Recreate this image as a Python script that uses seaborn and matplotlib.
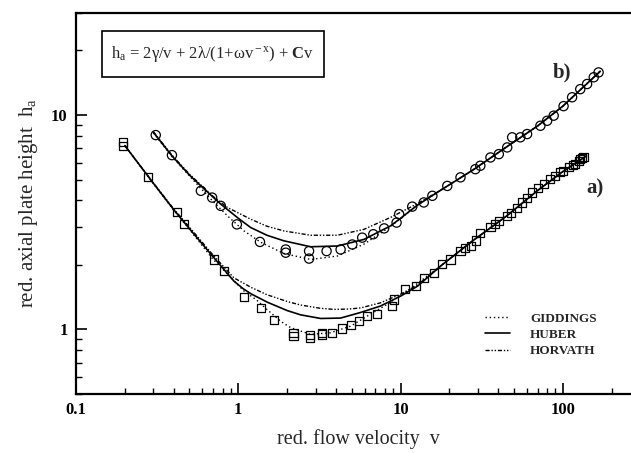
import matplotlib
matplotlib.use("Agg")
import matplotlib.pyplot as plt
import seaborn as sns
import pandas as pd
from matplotlib.patches import Rectangle
from matplotlib.ticker import LogLocator, NullFormatter

# ---------------- data ----------------
# measured points, series a) (squares)
a_v = [0.194, 0.194, 0.276, 0.418, 0.464, 0.71, 0.818, 1.085, 1.375, 1.66, 2.19, 2.19,
       2.75, 2.75, 3.3, 3.3, 3.8, 4.38, 4.92, 5.54, 6.24, 7.2, 8.9, 9.1, 10.7, 12.4, 13.9,
       16.0, 18.1, 20.3, 23.4, 25.0, 27.0, 29.0, 31.0, 35.8, 38.0, 40.3, 45.4, 48.0, 52.3,
       56.1, 60.0, 64.6, 70.0, 76.2, 83.8, 90.0, 96.5, 100.0, 108.6, 115.0, 119.4, 125.0,
       128.0, 131.0, 134.0]
a_h = [7.19, 7.45, 5.15, 3.53, 3.09, 2.12, 1.87, 1.41, 1.26, 1.11, 0.958, 0.93,
       0.94, 0.915, 0.947, 0.965, 0.958, 1.01, 1.05, 1.09, 1.155, 1.175, 1.285, 1.38, 1.55,
       1.59, 1.74, 1.84, 2.01, 2.12, 2.32, 2.4, 2.45, 2.6, 2.83, 2.99, 3.1, 3.21, 3.38, 3.5,
       3.70, 3.91, 4.1, 4.35, 4.55, 4.76, 5.02, 5.2, 5.4, 5.5, 5.7, 5.85, 5.9, 6.1,
       6.23, 6.3, 6.35]

# measured points, series b) (circles)
b_v = [0.31, 0.39, 0.588, 0.69, 0.78, 0.98, 1.36, 1.96, 1.96, 2.73, 2.73, 3.5, 4.27,
       5.04, 5.8, 6.79, 7.92, 9.45, 9.8, 11.8, 13.9, 15.7, 19.4, 23.4, 28.9, 31.0, 35.8,
       40.3, 45.4, 48.7, 54.7, 60.2, 72.7, 80.0, 87.8, 101.0, 114.0, 128.0, 141.0, 155.0,
       166.0]
b_h = [8.06, 6.5, 4.43, 4.12, 3.77, 3.09, 2.56, 2.36, 2.28, 2.32, 2.14, 2.32, 2.36,
       2.49, 2.68, 2.78, 2.96, 3.15, 3.45, 3.74, 3.91, 4.2, 4.67, 5.12, 5.59, 5.8, 6.34,
       6.57, 7.06, 7.87, 7.87, 8.15, 8.91, 9.4, 9.93, 11.0, 12.1, 13.2, 13.95, 15.0,
       15.8]

# model curves, series a)
a_gid_v = [0.2, 0.3, 0.4, 0.5, 0.7, 0.86, 1.085, 1.3, 1.5, 1.83, 2.1, 2.79, 3.7, 4.92,
           6.24, 8.28, 11, 18, 28, 45, 70, 100, 140]
a_gid_h = [7.2, 4.78, 3.6, 2.93, 2.12, 1.81, 1.51, 1.37, 1.24, 1.09, 1.02, 0.948, 0.965,
           1.036, 1.155, 1.31, 1.51, 2.0, 2.6, 3.38, 4.45, 5.45, 6.45]
a_hub_v = [0.2, 0.3, 0.4, 0.5, 0.7, 0.94, 1.07, 1.2, 1.51, 2.0, 2.42, 3.22, 4.27, 5.67,
           7.5, 10, 12.7, 18, 28, 45, 70, 100, 140]
a_hub_h = [7.2, 4.8, 3.62, 2.95, 2.18, 1.68, 1.55, 1.465, 1.34, 1.225, 1.17, 1.125, 1.13,
           1.2, 1.285, 1.43, 1.59, 2.0, 2.6, 3.38, 4.45, 5.45, 6.45]
a_hor_v = [0.2, 0.3, 0.4, 0.5, 0.7, 0.94, 1.2, 1.51, 2.0, 2.42, 3.2, 3.9, 4.8, 5.67, 7.5,
           10, 12.7, 18, 28, 45, 70, 100, 140]
a_hor_h = [7.2, 4.82, 3.65, 3.0, 2.22, 1.74, 1.57, 1.45, 1.35, 1.30, 1.255, 1.24, 1.245,
           1.26, 1.33, 1.46, 1.61, 2.0, 2.6, 3.38, 4.45, 5.45, 6.45]

# model curves, series b)
b_gid_v = [0.3, 0.39, 0.5, 0.588, 0.7, 0.86, 1.085, 1.375, 1.91, 2.79, 4.08, 5.95, 8.67,
           12.7, 18, 28, 45, 70, 100, 135, 170]
b_gid_h = [8.25, 6.4, 5.2, 4.55, 3.95, 3.38, 2.88, 2.55, 2.26, 2.12, 2.2, 2.5, 3.02,
           3.8, 4.5, 5.55, 7.1, 8.9, 11.0, 13.6, 16.0]
b_hub_v = [0.3, 0.39, 0.5, 0.588, 0.78, 1.0, 1.19, 1.5, 1.91, 2.79, 4.08, 5.95, 8.67, 10,
           12.7, 18, 28, 45, 70, 100, 135, 170]
b_hub_h = [8.3, 6.45, 5.25, 4.67, 3.84, 3.3, 2.99, 2.75, 2.59, 2.43, 2.45, 2.63, 3.04,
           3.3, 3.8, 4.5, 5.55, 7.1, 8.9, 11.0, 13.6, 16.0]
b_hor_v = [0.3, 0.39, 0.5, 0.588, 0.7, 0.86, 1.19, 1.5, 1.91, 2.79, 4.08, 5.95, 8.67,
           12.7, 18, 28, 45, 70, 100, 135, 170]
b_hor_h = [8.35, 6.5, 5.3, 4.72, 4.17, 3.70, 3.27, 3.03, 2.88, 2.75, 2.75, 2.93, 3.33,
           3.86, 4.5, 5.55, 7.1, 8.9, 11.0, 13.6, 16.0]

model_names = ["GIDDINGS", "HUBER", "HORVATH"]
x_ticks = [0.1, 1, 10, 100]
x_tick_labels = ["0.1", "1", "10", "100"]
y_ticks = [1, 10]
y_tick_labels = ["1", "10"]

# ---------------- style ----------------
sns.set_style("ticks")
plt.rcParams['font.family'] = ['Liberation Serif', 'DejaVu Serif']
plt.rcParams['mathtext.fontset'] = 'custom'
plt.rcParams['mathtext.rm'] = 'Liberation Serif'
plt.rcParams['mathtext.it'] = 'Liberation Serif:italic'
plt.rcParams['mathtext.bf'] = 'Liberation Serif:bold'

fig = plt.figure(figsize=(6.31, 4.53), dpi=100)
ax = fig.add_axes([76 / 631, 59 / 453, 564.3 / 631, 381.3 / 453])

styles = {
    "GIDDINGS": dict(linestyle=(0, (1.0, 2.0)), linewidth=1.0),
    "HUBER": dict(linestyle="-", linewidth=1.2),
    "HORVATH": dict(linestyle=(0, (3.0, 1.3, 1.0, 1.3, 1.0, 1.3)), linewidth=1.0),
}

curves_a = {"GIDDINGS": (a_gid_v, a_gid_h), "HUBER": (a_hub_v, a_hub_h),
            "HORVATH": (a_hor_v, a_hor_h)}
curves_b = {"GIDDINGS": (b_gid_v, b_gid_h), "HUBER": (b_hub_v, b_hub_h),
            "HORVATH": (b_hor_v, b_hor_h)}

for name in model_names:
    v, h = curves_a[name]
    sns.lineplot(x=v, y=h, ax=ax, color="black", sort=False, estimator=None,
                 label=name, **styles[name])
    v, h = curves_b[name]
    sns.lineplot(x=v, y=h, ax=ax, color="black", sort=False, estimator=None,
                 **styles[name])

sns.scatterplot(x=a_v, y=a_h, ax=ax, marker="s", s=34, facecolor="none",
                edgecolor="black", linewidth=0.9, legend=False, zorder=3)
sns.scatterplot(x=b_v, y=b_h, ax=ax, marker="o", s=44, facecolor="none",
                edgecolor="black", linewidth=0.9, legend=False, zorder=3)

ax.set_xscale("log")
ax.set_yscale("log")
ax.set_xlim(0.1, 300)
ax.set_ylim(0.5, 30)

ax.set_xticks(x_ticks)
ax.set_xticklabels(x_tick_labels, fontweight="bold", fontsize=12)
ax.set_yticks(y_ticks)
ax.set_yticklabels(y_tick_labels, fontweight="bold", fontsize=12)
ax.xaxis.set_minor_locator(LogLocator(base=10, subs=range(2, 10), numticks=20))
ax.yaxis.set_minor_locator(LogLocator(base=10, subs=range(2, 10), numticks=20))
ax.xaxis.set_minor_formatter(NullFormatter())
ax.yaxis.set_minor_formatter(NullFormatter())
ax.tick_params(which="both", direction="in", top=False, right=False, colors="black")
ax.tick_params(which="major", length=8, width=1.2, pad=6)
ax.tick_params(which="minor", length=4.5, width=1.0)

for sp in ax.spines.values():
    sp.set_linewidth(1.6)
    sp.set_color("black")

ax.set_xlabel("red. flow velocity  v", fontsize=14.5, labelpad=8)
ax.set_ylabel(r"red. axial plate height  h$_{\rm a}$", fontsize=15, labelpad=8)

# equation box
ax.add_patch(Rectangle((0.0456, 0.832), 0.394, 0.12, transform=ax.transAxes,
                       fill=False, edgecolor="black", linewidth=1.2, clip_on=False))
ax.text(0.2427, 0.892,
        r"h$_{\rm a}$ = 2γ/v + 2λ/(1+ωv$^{\rm -x}$) + $\mathbf{C}$v",
        transform=ax.transAxes, ha="center", va="center", fontsize=12)

ax.text(0.861, 0.8445, "b)", transform=ax.transAxes, ha="center", va="center",
        fontsize=15, fontweight="bold")
ax.text(0.92, 0.54, "a)", transform=ax.transAxes, ha="center", va="center",
        fontsize=15, fontweight="bold")

handles = [l for l in ax.get_lines() if l.get_label() in model_names]
leg = ax.legend(handles=handles, labels=model_names, loc="center left",
                bbox_to_anchor=(0.725, 0.155), frameon=False, borderpad=0,
                borderaxespad=0, handlelength=1.9, handletextpad=1.5,
                labelspacing=0.3, prop=dict(family="Liberation Serif",
                                            weight="bold", size=9.5))

fig.savefig("out.png", dpi=100)
